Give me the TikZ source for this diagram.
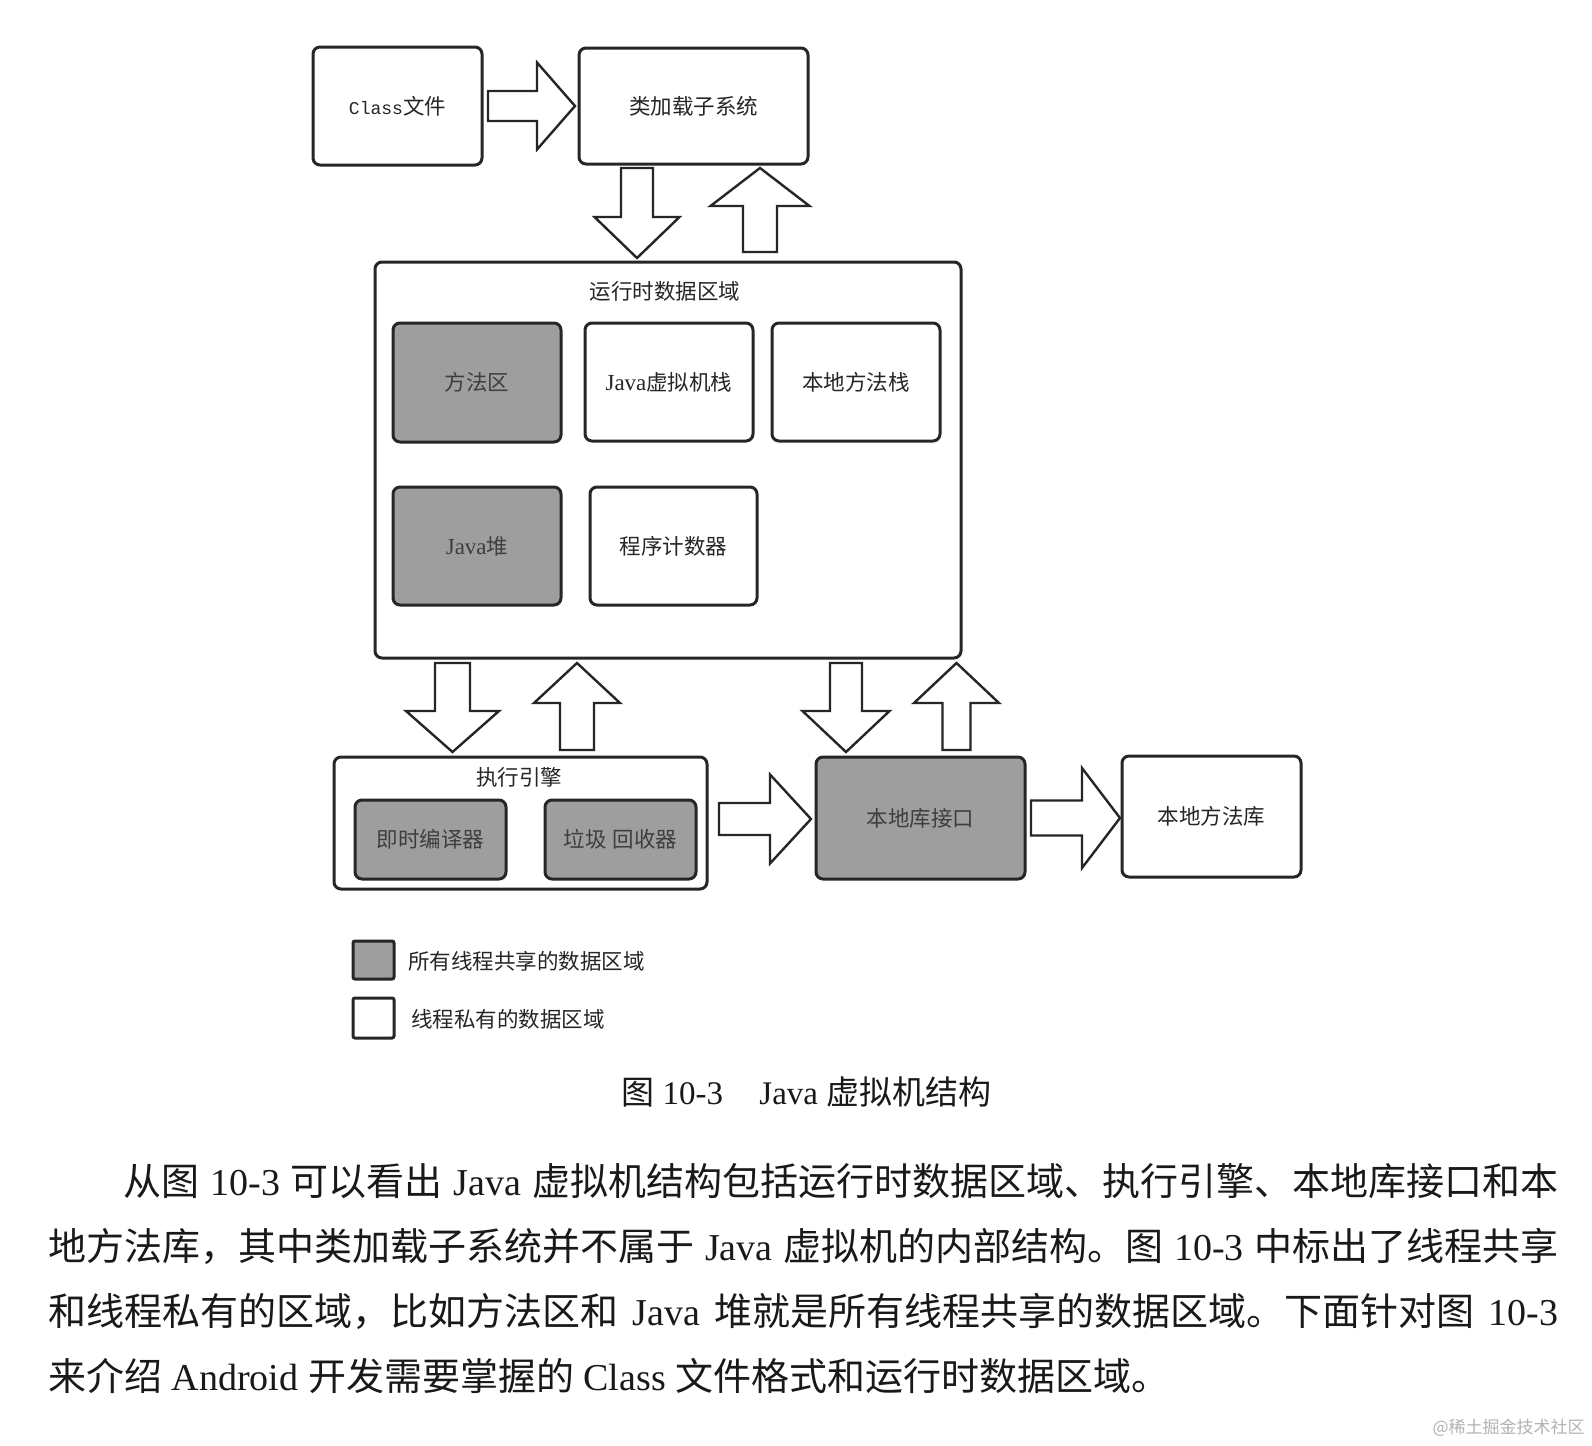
\documentclass[tikz,border=0pt]{standalone}
\usepackage{fontspec}
\setmainfont{Liberation Serif}
\newfontfamily\cjk{Noto Sans CJK SC}
\newfontfamily\mono{Liberation Mono}
\usetikzlibrary{fit,calc}
\definecolor{shade}{RGB}{158,158,158}
\definecolor{ink}{RGB}{38,38,38}
\definecolor{dimink}{RGB}{62,62,62}
\definecolor{txt}{RGB}{25,25,25}
\newcommand\difont{\fontsize{10.75pt}{13pt}\selectfont\cjk}
\newcommand\parafont{\fontsize{19pt}{22pt}\selectfont}
\newcommand\blockarrow[5]{%
  \path let \p1=(#1), \p2=(#2) in \pgfextra{%
    \pgfmathsetmacro\tmpang{atan2(\y2-\y1,\x2-\x1)}%
    \pgfmathsetmacro\tmplen{veclen(\x2-\x1,\y2-\y1)}%
    \xdef\baang{\tmpang}\xdef\balen{\tmplen}%
    \xdef\bax{\x1}\xdef\bay{\y1}};
  \draw[barrow, shift={(\bax,\bay)}, rotate=\baang]
    (0pt,{#3*0.5pt}) -- ({\balen pt-#5*0.5pt},{#3*0.5pt}) -- ({\balen pt-#5*0.5pt},{#4*0.5pt})
    -- (\balen pt,0pt) -- ({\balen pt-#5*0.5pt},{-#4*0.5pt}) -- ({\balen pt-#5*0.5pt},{-#3*0.5pt})
    -- (0pt,{-#3*0.5pt}) -- cycle;
}
\begin{document}
\begin{tikzpicture}[x=0.5pt,y=-0.5pt,
  box/.style={draw=ink, line width=1.5pt, rounded corners=3.5pt, inner sep=0pt, outer sep=0pt},
  wbox/.style={box, fill=white},
  gbox/.style={box, fill=shade},
  barrow/.style={draw=ink, fill=white, line width=1.2pt, line join=miter},
  lbl/.style={font=\difont, text=ink, inner sep=0pt},
  glbl/.style={lbl, text=dimink},
  para/.style={font=\parafont, text=txt, inner sep=0pt, anchor=west},
]
\fill[white, use as bounding box] (0,0) rectangle (1592,1446);

% boxes
\node[wbox, fit={(313,47)(482,165)}, label={[lbl]center:{\mono\fontsize{9pt}{11pt}\selectfont Class}文件}] (cls) {};
\node[wbox, fit={(579,48)(808,164)}, label={[lbl]center:类加载子系统}] (ld) {};
\node[wbox, fit={(375,262)(961,658)}] (rt) {};
\node[lbl] (rtT) at (665,291) {运行时数据区域};
\node[gbox, fit={(393,323)(561,442)}, label={[glbl]center:方法区}] (ma) {};
\node[wbox, fit={(585,323)(753,441)}, label={[lbl]center:{\rmfamily\fontsize{11.5pt}{13pt}\selectfont Java}虚拟机栈}] (jvs) {};
\node[wbox, fit={(772,323)(940,441)}, label={[lbl]center:本地方法栈}] (nms) {};
\node[gbox, fit={(393,487)(561,605)}, label={[glbl]center:{\rmfamily\fontsize{11.5pt}{13pt}\selectfont Java}堆}] (heap) {};
\node[wbox, fit={(590,487)(757,605)}, label={[lbl]center:程序计数器}] (pc) {};
\node[wbox, fit={(334,757)(707,889)}] (ee) {};
\node[lbl] (eeT) at (519,777) {执行引擎};
\node[gbox, fit={(355,800)(506,879)}, label={[glbl]center:即时编译器}] (jit) {};
\node[gbox, fit={(545,800)(696,879)}, label={[glbl]center:垃圾\hspace{0.3em}回收器}] (gc) {};
\node[gbox, fit={(816,757)(1025,879)}, label={[glbl]center:本地库接口}] (nli) {};
\node[wbox, fit={(1122,756)(1301,877)}, label={[lbl]center:本地方法库}] (nml) {};

% block arrows
\blockarrow{$(cls.east)+(6,0)$}{$(ld.west)+(-4,0)$}{15}{43.5}{38}
\blockarrow{$(ld.south west)+(58,4)$}{$(rt.north west)+(262,-4)$}{16}{42.5}{41}
\blockarrow{$(rt.north west)+(385,-10)$}{$(ld.south west)+(181,4)$}{17}{49.5}{38}
\blockarrow{$(rt.south west)+(77.5,5)$}{$(ee.north west)+(118.5,-5)$}{17.5}{46.5}{41}
\blockarrow{$(ee.north west)+(243,-7)$}{$(rt.south west)+(202,5)$}{17}{43}{40}
\blockarrow{$(rt.south west)+(471,5)$}{$(nli.north west)+(30,-5)$}{16}{43.5}{41}
\blockarrow{$(nli.north west)+(140.5,-7)$}{$(rt.south west)+(581.5,5)$}{14}{42.5}{40}
\blockarrow{$(ee.north east)+(12,62)$}{$(nli.north west)+(-5,62)$}{16}{44.5}{41}
\blockarrow{$(nli.north east)+(6,61)$}{$(nml.north west)+(-2,62)$}{17.5}{50}{38}

% legend
\node[gbox, rounded corners=1pt, fit={(353,941)(394,979)}] (lg1) {};
\node[lbl, anchor=west] (lt1) at (408,961) {所有线程共享的数据区域};
\node[wbox, rounded corners=1pt, fit={(353,998)(394,1038)}] (lg2) {};
\node[lbl, anchor=west] (lt2) at (411,1019) {线程私有的数据区域};

% caption
\node[anchor=west, inner sep=0pt, text=txt, font=\fontsize{16.5pt}{20pt}\selectfont] (cap) at (621,1092)
  {{\cjk 图} 10-3\hspace{1.1em}Java {\cjk 虚拟机结构}};

% paragraph
\node[para] (p1) at (123,1181) {\hbox to 717.5pt{\XeTeXlinebreaklocale "zh"\XeTeXlinebreakskip=0pt plus 4pt minus 0.6pt {\cjk 从图} 10-3 {\cjk 可以看出} Java {\cjk 虚拟机结构包括运行时数据区域、执行引擎、本地库接口和本}}};
\node[para] (p2) at (48,1246) {\hbox to 755pt{\XeTeXlinebreaklocale "zh"\XeTeXlinebreakskip=0pt plus 4pt minus 0.6pt {\cjk 地方法库，其中类加载子系统并不属于} Java {\cjk 虚拟机的内部结构。图} 10-3 {\cjk 中标出了线程共享}}};
\node[para] (p3) at (48,1311) {\hbox to 755pt{\XeTeXlinebreaklocale "zh"\XeTeXlinebreakskip=0pt plus 4pt minus 0.6pt {\cjk 和线程私有的区域，比如方法区和} Java {\cjk 堆就是所有线程共享的数据区域。下面针对图} 10-3}};
\node[para] (p4) at (48,1376) {{\cjk 来介绍} Android {\cjk 开发需要掌握的} Class {\cjk 文件格式和运行时数据区域。}};

% watermark
\node[anchor=east, inner sep=0pt, text=gray!60, font=\fontsize{8.5pt}{10pt}\selectfont\cjk] (wm) at (1585,1428) {@稀土掘金技术社区};
\end{tikzpicture}
\end{document}
